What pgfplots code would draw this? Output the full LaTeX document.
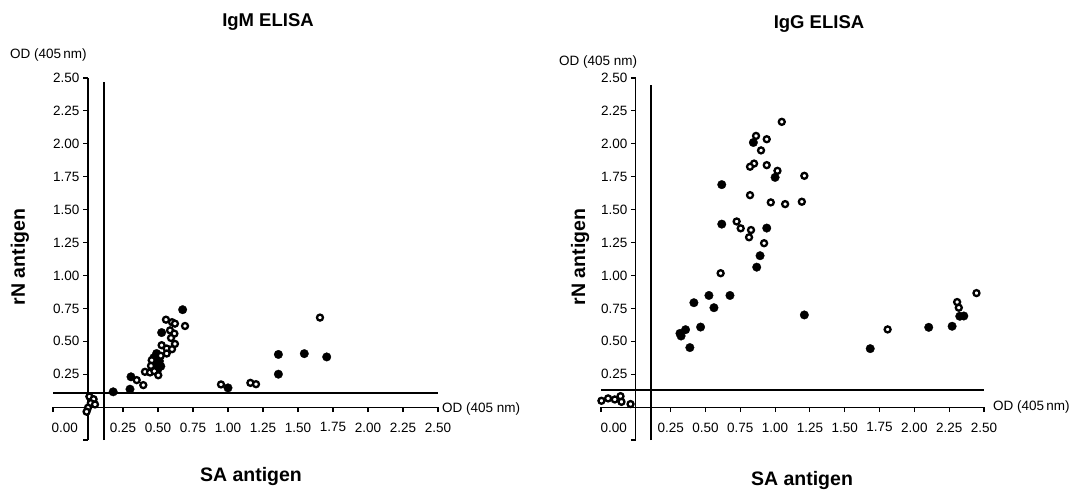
\documentclass[border=0pt]{standalone}
\usepackage{pgfplots}
\pgfplotsset{compat=1.18}
\usepackage{fontspec}
\setmainfont{Liberation Sans}

\pgfplotsset{
  elisa/.style={
    scale only axis,
    width=385pt, height=362pt,
    xmin=-0.25, xmax=2.5, ymin=-0.25, ymax=2.5,
    axis lines=middle,
    axis line style={-, line width=1.1pt},
    tick style={line width=1.1pt, black},
    tick align=outside,
    major tick length=5pt,
    xtick={-0.25,0,0.25,0.5,0.75,1,1.25,1.5,1.75,2,2.25,2.5},
    xticklabels={,,0.25,0.50,0.75,1.00,1.25,1.50,1.75,2.00,2.25,2.50},
    ytick={-0.25,0,0.25,0.5,0.75,1,1.25,1.5,1.75,2,2.25,2.5},
    yticklabels={,,0.25,0.50,0.75,1.00,1.25,1.50,1.75,2.00,2.25,2.50},
    ticklabel style={font=\fontsize{13.5}{15}\selectfont},
    xticklabel style={yshift=-7pt},
    clip=false,
  },
  filled/.style={only marks, mark=*, mark size=4.3pt,
    mark options={fill=black, draw=black, line width=0.3pt}},
  hollow/.style={only marks, mark=*, mark size=3pt,
    mark options={fill=white, draw=black, line width=2.3pt}},
  cutoff/.style={no marks, black, line width=2.5pt},
}

\begin{document}
\begin{tikzpicture}
\path (0pt,0pt) rectangle (1076pt,-492pt);

% IgM
\begin{axis}[elisa, at={(53pt,-440pt)}, anchor=south west]
\addplot[cutoff] coordinates {(0.114,-0.25) (0.114,2.47)};
\addplot[cutoff] coordinates {(-0.25,0.106) (2.5,0.106)};
\addplot[filled] coordinates {
  (0.676,0.74) (0.526,0.566) (0.49,0.407) (0.47,0.375) (0.51,0.35)
  (0.48,0.33) (0.52,0.31) (0.50,0.29) (0.307,0.23) (0.30,0.136)
  (0.18,0.116) (1.0,0.146) (1.36,0.40) (1.36,0.25) (1.545,0.406)
  (1.705,0.381)
};
\addplot[hollow] coordinates {
  (0.557,0.664) (0.60,0.645) (0.621,0.634) (0.693,0.616) (0.586,0.583)
  (0.617,0.558) (0.593,0.525) (0.526,0.47) (0.562,0.445) (0.621,0.48)
  (0.60,0.44) (0.562,0.407) (0.52,0.39) (0.455,0.356) (0.45,0.313)
  (0.407,0.268) (0.443,0.263) (0.474,0.273) (0.502,0.242) (0.348,0.205)
  (0.395,0.167) (0.95,0.172) (1.16,0.184) (1.20,0.174) (1.657,0.68)
  (0.01,0.08) (0.04,0.06) (0.02,0.03) (0.05,0.02) (0.0,-0.005)
  (-0.01,-0.035)
};
\end{axis}

% IgG
\begin{axis}[elisa, width=383pt, at={(601pt,-440pt)}, anchor=south west]
\addplot[cutoff] coordinates {(0.108,-0.25) (0.108,2.45)};
\addplot[cutoff] coordinates {(-0.25,0.128) (2.5,0.128)};
\addplot[filled] coordinates {
  (0.617,1.69) (0.617,1.39) (0.844,2.01) (1.0,1.745) (0.94,1.36)
  (0.892,1.15) (0.868,1.063) (1.21,0.70) (0.676,0.848) (0.525,0.848)
  (0.561,0.755) (0.417,0.793) (0.465,0.608) (0.357,0.588) (0.317,0.56)
  (0.325,0.54) (0.388,0.452) (2.326,0.69) (2.355,0.692) (2.271,0.614)
  (2.103,0.606) (1.683,0.444)
};
\addplot[hollow] coordinates {
  (1.048,2.167) (0.863,2.06) (0.94,2.035) (0.899,1.95) (0.849,1.85)
  (0.82,1.826) (0.94,1.838) (1.017,1.795) (1.21,1.757) (0.82,1.61)
  (0.969,1.555) (1.072,1.542) (1.192,1.56) (0.724,1.41) (0.753,1.358)
  (0.827,1.345) (0.813,1.29) (0.921,1.245) (0.609,1.017) (2.446,0.866)
  (2.307,0.798) (2.319,0.755) (1.808,0.59) (-0.247,0.048) (-0.199,0.066)
  (-0.151,0.058) (-0.11,0.083) (-0.103,0.04) (-0.038,0.023)
};
\end{axis}

% texts
\node[font=\bfseries\fontsize{18.5}{20}\selectfont] at (268pt,-22pt) {IgM ELISA};
\node[font=\bfseries\fontsize{18.5}{20}\selectfont] at (819pt,-24pt) {IgG ELISA};
\node[anchor=west, inner sep=0pt, font=\fontsize{13.5}{15}\selectfont] at (10pt,-55pt) {OD (405\,nm)};
\node[anchor=west, inner sep=0pt, font=\fontsize{13.5}{15}\selectfont] at (559pt,-62pt) {OD (405 nm)};
\node[anchor=west, inner sep=0pt, font=\fontsize{13.5}{15}\selectfont] at (442pt,-409pt) {OD (405 nm)};
\node[anchor=west, inner sep=0pt, font=\fontsize{13.5}{15}\selectfont] at (993pt,-407pt) {OD (405\,nm)};
\node[rotate=90, font=\bfseries\fontsize{19.5}{21}\selectfont] at (20pt,-257pt) {rN antigen};
\node[rotate=90, font=\bfseries\fontsize{19.5}{21}\selectfont] at (580pt,-257pt) {rN antigen};
\node[font=\bfseries\fontsize{19.5}{21}\selectfont] at (251pt,-476pt) {SA antigen};
\node[font=\bfseries\fontsize{19.5}{21}\selectfont] at (802pt,-480pt) {SA antigen};
\node[anchor=east, inner sep=0pt, font=\fontsize{13.5}{15}\selectfont] at (78pt,-428pt) {0.00};
\node[anchor=east, inner sep=0pt, font=\fontsize{13.5}{15}\selectfont] at (627pt,-428pt) {0.00};
\end{tikzpicture}
\end{document}
